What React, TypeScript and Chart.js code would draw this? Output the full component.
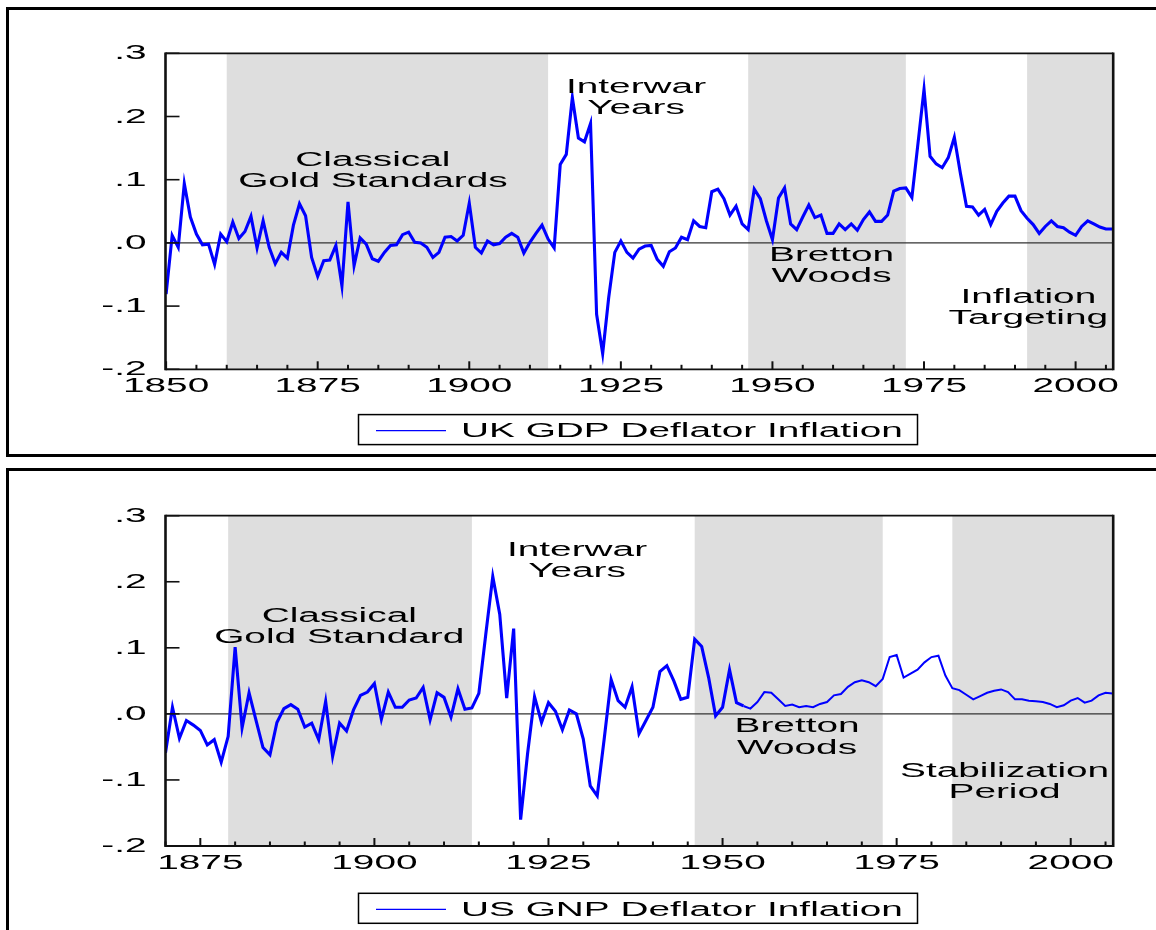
import React, { useEffect, useRef } from "react";
import { Chart, registerables } from "chart.js";

Chart.register(...registerables);

// ---- UK GDP deflator inflation, annual, 1850-2006 ----
const ukStartYear = 1850;
const ukInflation = [
  -0.081, 0.012, -0.007, 0.094, 0.041, 0.014, -0.003, -0.002, -0.034, 0.014,
  0.002, 0.033, 0.007, 0.018, 0.042, -0.008, 0.035, -0.007, -0.033, -0.015,
  -0.024, 0.028, 0.062, 0.043, -0.023, -0.053, -0.028, -0.027, -0.004, -0.068,
  0.065, -0.036, 0.008, -0.002, -0.025, -0.029, -0.015, -0.004, -0.003, 0.013,
  0.017, 0.001, 0.0, -0.007, -0.023, -0.015, 0.009, 0.01, 0.003, 0.012,
  0.063, -0.007, -0.016, 0.003, -0.003, -0.001, 0.009, 0.015, 0.009, -0.016,
  0.001, 0.015, 0.028, 0.006, -0.008, 0.124, 0.14, 0.23, 0.166, 0.16,
  0.189, -0.113, -0.175, -0.086, -0.015, 0.003, -0.015, -0.024, -0.01, -0.005,
  -0.004, -0.026, -0.037, -0.014, -0.008, 0.009, 0.005, 0.035, 0.026, 0.024,
  0.081, 0.085, 0.07, 0.044, 0.058, 0.03, 0.021, 0.085, 0.07, 0.035,
  0.005, 0.071, 0.087, 0.03, 0.021, 0.041, 0.06, 0.04, 0.044, 0.015,
  0.015, 0.03, 0.021, 0.03, 0.02, 0.037, 0.049, 0.034, 0.034, 0.044,
  0.082, 0.086, 0.087, 0.072, 0.157, 0.243, 0.137, 0.125, 0.119, 0.135,
  0.167, 0.11, 0.058, 0.057, 0.044, 0.053, 0.029, 0.05, 0.063, 0.074,
  0.074, 0.051, 0.039, 0.029, 0.015, 0.026, 0.035, 0.026, 0.024, 0.017,
  0.012, 0.026, 0.035, 0.03, 0.025, 0.022, 0.022,
];

// ---- US GNP deflator inflation, annual, 1870-2006 ----
const usStartYear = 1870;
const usInflation = [
  -0.059, 0.01, -0.037, -0.01, -0.017, -0.025, -0.047, -0.039, -0.073, -0.034,
  0.101, -0.021, 0.032, -0.01, -0.051, -0.062, -0.013, 0.008, 0.014, 0.007,
  -0.02, -0.014, -0.039, 0.019, -0.064, -0.014, -0.026, 0.006, 0.028, 0.033,
  0.046, -0.008, 0.033, 0.01, 0.01, 0.021, 0.024, 0.04, -0.009, 0.032,
  0.025, -0.005, 0.038, 0.007, 0.009, 0.031, 0.121, 0.208, 0.151, 0.024,
  0.129, -0.16, -0.06, 0.026, -0.013, 0.017, 0.004, -0.024, 0.006, 0.0,
  -0.038, -0.109, -0.124, -0.038, 0.052, 0.02, 0.01, 0.041, -0.03, -0.01,
  0.01, 0.064, 0.073, 0.05, 0.022, 0.025, 0.113, 0.102, 0.055, -0.003,
  0.01, 0.067, 0.017, 0.012, 0.008, 0.018, 0.033, 0.032, 0.022, 0.012,
  0.014, 0.01, 0.012, 0.01, 0.015, 0.018, 0.028, 0.03, 0.041, 0.048,
  0.051, 0.048, 0.042, 0.053, 0.086, 0.089, 0.055, 0.061, 0.067, 0.078,
  0.086, 0.088, 0.058, 0.039, 0.036, 0.029, 0.022, 0.027, 0.032, 0.035,
  0.037, 0.033, 0.022, 0.022, 0.02, 0.019, 0.018, 0.015, 0.01, 0.013,
  0.02, 0.024, 0.017, 0.02, 0.028, 0.032, 0.031,
];

// ---- Monetary regimes (shaded periods) ----
const ukRegimeBands = [
  [1860, 1913],
  [1946, 1972],
  [1992, 2010],
];
const usRegimeBands = [
  [1879, 1914],
  [1946, 1973],
  [1983, 2010],
];

// ---- Regime labels: centre year, value at the first line's baseline ----
const ukRegimeLabels = [
  { lines: ["Classical", "Gold Standards"], year: 1884.1, value: 0.122 },
  { lines: ["Interwar", "Years"], year: 1927.5, value: 0.2375 },
  { lines: ["Bretton", "Woods"], year: 1959.75, value: -0.028 },
  { lines: ["Inflation", "Targeting"], year: 1992.2, value: -0.0945 },
];
const usRegimeLabels = [
  { lines: ["Classical", "Gold Standard"], year: 1894.95, value: 0.1395 },
  { lines: ["Interwar", "Years"], year: 1929.1, value: 0.239 },
  { lines: ["Bretton", "Woods"], year: 1960.7, value: -0.0275 },
  { lines: ["Stabilization", "Period"], year: 1990.5, value: -0.095 },
];

// ---- Axis ticks ----
const yTickValues = [-0.2, -0.1, 0, 0.1, 0.2, 0.3];
const yTickLabels = ["-.2", "-.1", ".0", ".1", ".2", ".3"];
const ukMajorYears = [1850, 1875, 1900, 1925, 1950, 1975, 2000];
const usMajorYears = [1875, 1900, 1925, 1950, 1975, 2000];

const FONT = '19.4px "Liberation Sans", Arial, Helvetica, sans-serif';
const TEXT_STRETCH = 2;
const SHADE = "#dedede";
const LINE_BLUE = "#0000ff";

function stretchedText(
  ctx: CanvasRenderingContext2D,
  text: string,
  x: number,
  y: number,
  align: CanvasTextAlign
) {
  ctx.save();
  ctx.translate(x, y);
  ctx.scale(TEXT_STRETCH, 1);
  ctx.font = FONT;
  ctx.textAlign = align;
  ctx.textBaseline = "alphabetic";
  ctx.fillStyle = "#000";
  ctx.fillText(text, 0, 0);
  ctx.restore();
}

// Draws the regime shading, zero line, frame, inward ticks, labels and legend box.
const panelDecor = {
  id: "panelDecor",
  beforeDatasetsDraw(chart: any, _args: any, opts: any) {
    const { ctx, chartArea: a, scales } = chart;
    const x = scales.x;
    const y = scales.y;
    ctx.save();
    ctx.fillStyle = SHADE;
    for (const [s, e] of opts.bands) {
      const x0 = Math.max(a.left, x.getPixelForValue(s));
      const x1 = Math.min(a.right, x.getPixelForValue(e));
      if (x1 > x0) ctx.fillRect(x0, a.top, x1 - x0, a.bottom - a.top);
    }
    const y0 = y.getPixelForValue(0);
    ctx.strokeStyle = "#333";
    ctx.lineWidth = 1.3;
    ctx.beginPath();
    ctx.moveTo(a.left, y0);
    ctx.lineTo(a.right, y0);
    ctx.stroke();
    ctx.restore();
  },
  afterDatasetsDraw(chart: any, _args: any, opts: any) {
    const { ctx, chartArea: a, scales } = chart;
    const x = scales.x;
    const y = scales.y;
    ctx.save();
    ctx.strokeStyle = "#111";

    // frame
    ctx.lineWidth = 1.8;
    ctx.beginPath();
    ctx.moveTo(a.left, a.top);
    ctx.lineTo(a.right, a.top);
    ctx.moveTo(a.left, a.bottom);
    ctx.lineTo(a.right, a.bottom);
    ctx.stroke();
    ctx.lineWidth = 2.6;
    ctx.beginPath();
    ctx.moveTo(a.left, a.top - 0.9);
    ctx.lineTo(a.left, a.bottom + 0.9);
    ctx.moveTo(a.right, a.top - 0.9);
    ctx.lineTo(a.right, a.bottom + 0.9);
    ctx.stroke();

    // y ticks (inward) and labels
    ctx.lineWidth = 1.6;
    yTickValues.forEach((v, i) => {
      const py = y.getPixelForValue(v);
      ctx.beginPath();
      ctx.moveTo(a.left, py);
      ctx.lineTo(a.left + 14, py);
      ctx.stroke();
      stretchedText(ctx, yTickLabels[i], a.left - 19, py + 6, "right");
    });

    // x ticks: minor every 5 years, major with labels
    ctx.lineWidth = 2;
    const first = Math.ceil(x.min / 5) * 5;
    for (let yr = first; yr <= x.max; yr += 5) {
      const px = x.getPixelForValue(yr);
      const major = opts.majors.includes(yr);
      ctx.beginPath();
      ctx.moveTo(px, a.bottom);
      ctx.lineTo(px, a.bottom - (major ? 8 : 4.5));
      ctx.stroke();
    }
    for (const yr of opts.majors) {
      stretchedText(ctx, String(yr), x.getPixelForValue(yr), a.bottom + 22.5, "center");
    }

    // regime labels
    for (const lab of opts.labels) {
      const px = x.getPixelForValue(lab.year);
      const py = y.getPixelForValue(lab.value);
      lab.lines.forEach((t: string, i: number) => {
        stretchedText(ctx, t, px, py + i * 21.5, "center");
      });
    }

    // legend box
    const lb = opts.legend;
    const top = a.bottom + lb.offset;
    ctx.lineWidth = 1.5;
    ctx.strokeStyle = "#000";
    ctx.strokeRect(358.5, top, 559, 30);
    ctx.strokeStyle = LINE_BLUE;
    ctx.lineWidth = 1.2;
    ctx.beginPath();
    ctx.moveTo(376, top + 16);
    ctx.lineTo(446, top + 16);
    ctx.stroke();
    stretchedText(ctx, lb.text, 461, top + 22.5, "left");
    ctx.restore();
  },
};

type PanelProps = {
  top: number;
  height: number;
  startYear: number;
  values: number[];
  xMin: number;
  xMax: number;
  plotTop: number;
  plotBottom: number;
  bands: number[][];
  labels: { lines: string[]; year: number; value: number }[];
  majors: number[];
  legendText: string;
  legendOffset: number;
  thinFrom?: number;
};

function InflationPanel(p: PanelProps) {
  const ref = useRef<HTMLCanvasElement | null>(null);

  useEffect(() => {
    const canvas = ref.current;
    if (!canvas) return;
    const points = p.values.map((v, i) => ({ x: p.startYear + i, y: v }));
    const chart = new Chart(canvas, {
      type: "line",
      data: {
        datasets: [
          {
            label: p.legendText,
            data: points,
            borderColor: LINE_BLUE,
            borderWidth: 3.1,
            pointRadius: 0,
            tension: 0,
            fill: false,
            segment: {
              borderWidth: (c: any) =>
                p.thinFrom !== undefined && c.p0.parsed.x >= p.thinFrom ? 2 : 3.1,
            },
          },
        ],
      },
      options: {
        responsive: false,
        animation: false,
        devicePixelRatio: 1,
        layout: {
          autoPadding: false,
          padding: {
            left: 165.5,
            right: 1156 - 1113.2,
            top: p.plotTop,
            bottom: p.height - p.plotBottom,
          },
        },
        scales: {
          x: { type: "linear", min: p.xMin, max: p.xMax, display: false },
          y: { type: "linear", min: -0.2, max: 0.3, display: false },
        },
        plugins: {
          legend: { display: false },
          tooltip: { enabled: false },
          panelDecor: {
            bands: p.bands,
            labels: p.labels,
            majors: p.majors,
            legend: { text: p.legendText, offset: p.legendOffset },
          },
        } as any,
      },
      plugins: [panelDecor],
    });
    return () => chart.destroy();
  }, []);

  return (
    <canvas
      ref={ref}
      width={1156}
      height={p.height}
      style={{
        position: "absolute",
        left: 0,
        top: p.top,
        width: 1156,
        height: p.height,
      }}
    />
  );
}

export default function App() {
  return (
    <div
      style={{
        position: "fixed",
        left: 0,
        top: 0,
        width: 1156,
        height: 930,
        overflow: "hidden",
        background: "#fff",
      }}
    >
      <div
        style={{
          position: "absolute",
          left: 6,
          top: 7,
          width: 1200,
          height: 444,
          border: "3px solid #000",
        }}
      />
      <div
        style={{
          position: "absolute",
          left: 6,
          top: 468,
          width: 1200,
          height: 600,
          border: "3px solid #000",
        }}
      />
      <InflationPanel
        top={0}
        height={460}
        startYear={ukStartYear}
        values={ukInflation}
        xMin={1849.9}
        xMax={2006.2}
        plotTop={53.3}
        plotBottom={369.3}
        bands={ukRegimeBands}
        labels={ukRegimeLabels}
        majors={ukMajorYears}
        legendText="UK GDP Deflator Inflation"
        legendOffset={45.3}
      />
      <InflationPanel
        top={460}
        height={470}
        startYear={usStartYear}
        values={usInflation}
        xMin={1870}
        xMax={2006.1}
        plotTop={55.7}
        plotBottom={386}
        bands={usRegimeBands}
        labels={usRegimeLabels}
        majors={usMajorYears}
        legendText="US GNP Deflator Inflation"
        legendOffset={47.3}
        thinFrom={1953}
      />
    </div>
  );
}
